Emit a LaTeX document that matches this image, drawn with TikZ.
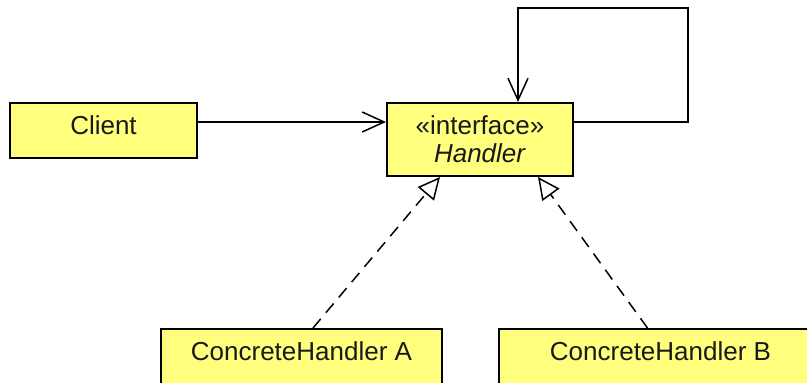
\documentclass[tikz,border=0pt]{standalone}
\usepackage{fontspec}
\setmainfont{Liberation Sans}
\usetikzlibrary{arrows.meta}
\definecolor{umlfill}{RGB}{255,255,125}
\definecolor{umltext}{RGB}{25,25,25}
\tikzset{
  umlbox/.style={draw=black, line width=1pt, fill=umlfill, text=umltext,
    inner sep=0pt, font=\fontsize{13}{14}\selectfont},
  classbox/.style={umlbox, minimum height=27.5pt, text depth=5pt},
  assoc/.style={line width=0.75pt, -{Straight Barb[length=11pt,width=10pt,line width=0.75pt]}},
  realize/.style={line width=0.75pt, dash pattern=on 6pt off 4pt,
    -{Triangle[open,length=11pt,width=10.5pt,line width=0.75pt,fill=white]}}
}
\begin{document}
\begin{tikzpicture}[x=0.5pt,y=-0.5pt]
        \useasboundingbox (0,0) rectangle (807,382);
        \clip (0,0) rectangle (807,382);

\node[classbox, minimum width=93.5pt] (clt) at (103.5,130.5) {Client};
\node[umlbox, minimum width=93pt, minimum height=36.5pt, align=center] (hnd) at (480,139.5) {«interface»\\\textit{Handler}};
\node[classbox, minimum width=140.5pt] (cha) at (301.5,356.5) {ConcreteHandler A};
\node[classbox, minimum width=161.5pt] (chb) at (660.5,356.5) {ConcreteHandler B};

% client uses handler
\draw[assoc] ([yshift=4.25pt]clt.east) coordinate (c1) -- (c1 -| hnd.west);

% successor link
\coordinate (loop) at (688,8);
\draw[assoc] ([yshift=8.75pt]hnd.east) -| (loop) -| ([xshift=19pt]hnd.north);

% realizations
\draw[realize] ([xshift=5.75pt]cha.north) -- ([xshift=-20pt]hnd.south);
\draw[realize] ([xshift=-6.5pt]chb.north) -- ([xshift=29pt]hnd.south);

\end{tikzpicture}
\end{document}
